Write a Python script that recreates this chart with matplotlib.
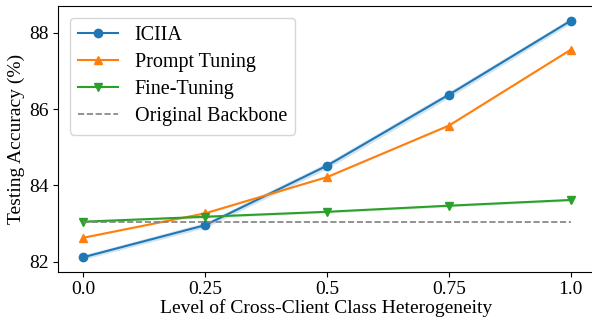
import numpy as np
import matplotlib.pyplot as plt

plt.rcParams['font.family'] = ['Liberation Serif', 'DejaVu Serif']
plt.rcParams['mathtext.fontset'] = 'stix'

levels = [0.0, 0.25, 0.5, 0.75, 1.0]
tick_labels = ['0.0', '0.25', '0.5', '0.75', '1.0']
iciia = [82.12, 82.96, 84.52, 86.38, 88.32]
iciia_std = [0.06, 0.07, 0.08, 0.08, 0.07]
prompt = [82.63, 83.27, 84.22, 85.57, 87.56]
prompt_std = [0.02, 0.02, 0.02, 0.02, 0.02]
finetune = [83.05, 83.18, 83.31, 83.47, 83.62]
finetune_std = [0.03, 0.03, 0.03, 0.03, 0.03]
backbone = 83.03

fig = plt.figure(figsize=(5.92, 3.2), dpi=100)
ax = fig.add_axes([0.098, 0.151, 0.905, 0.831])

series = [
    ('ICIIA', iciia, iciia_std, 'C0', 'o'),
    ('Prompt Tuning', prompt, prompt_std, 'C1', '^'),
    ('Fine-Tuning', finetune, finetune_std, 'C2', 'v'),
]
x = np.array(levels)
for name, vals, std, c, m in series:
    vals = np.array(vals)
    std = np.array(std)
    ax.plot(x, vals, color=c, marker=m, markersize=6, linewidth=1.5, label=name)
    ax.fill_between(x, vals - std, vals + std, color=c, alpha=0.2, linewidth=0)

ax.plot([levels[0], levels[-1]], [backbone, backbone], '--', color='gray',
        linewidth=1.2, label='Original Backbone')

ax.set_xlim(-0.052, 1.047)
ax.set_ylim(81.74, 88.71)
ax.set_xticks(levels)
ax.set_xticklabels(tick_labels)
ax.set_yticks([82, 84, 86, 88])
ax.tick_params(labelsize=14, pad=3)
ax.spines['right'].set_visible(False)

ax.set_xlabel('Level of Cross-Client Class Heterogeneity', fontsize=14, labelpad=1)
ax.set_ylabel('Testing Accuracy (%)', fontsize=14, labelpad=3)
ax.legend(loc='upper left', fontsize=14.5, borderaxespad=0.6, labelspacing=0.4)

fig.savefig('out.png', dpi=100)
